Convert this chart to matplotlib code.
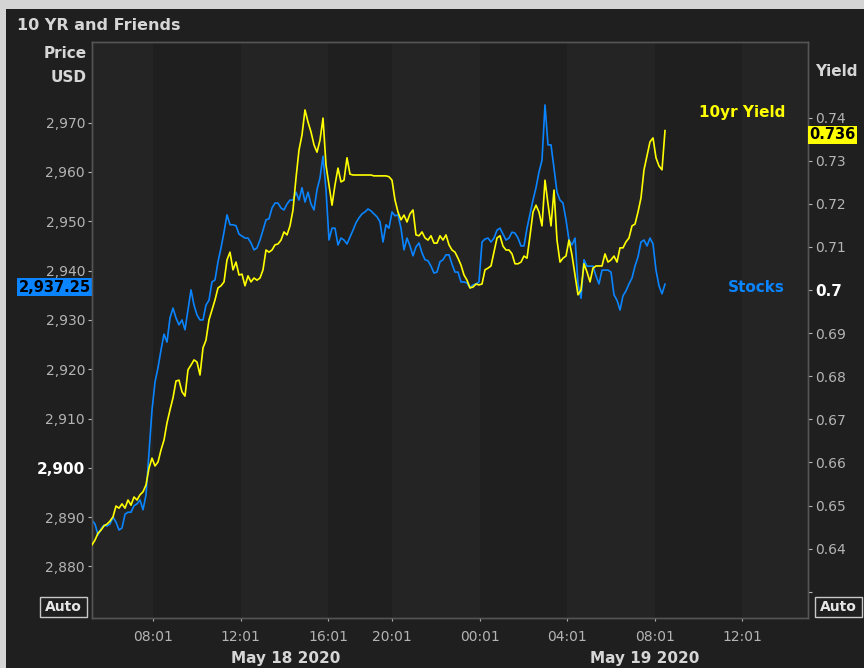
import numpy as np
import matplotlib
matplotlib.use("Agg")
import matplotlib.pyplot as plt
from matplotlib.transforms import blended_transform_factory
from matplotlib.patches import Rectangle

# ---------------- data ----------------
title = "10 YR and Friends"
stocks_label = "Stocks"
yield_label = "10yr Yield"
left_axis_title = ["Price", "USD"]
right_axis_title = "Yield"

# chart-time (hours relative to 08:01 May 18, trading-session clock)
t_start, t_end = -2.785, 23.38

stocks = [
    2889.4, 2888.6, 2886.4, 2887.6, 2888.4, 2888.2, 2888.6, 2890.0, 2889.0, 2887.4,
    2887.8, 2890.6, 2891.0, 2891.0, 2892.3, 2892.7, 2893.5, 2891.5, 2894.5, 2903.2,
    2911.7, 2917.4, 2920.3, 2923.9, 2927.1, 2925.5, 2930.4, 2932.4, 2930.4, 2929.0,
    2930.0, 2928.0, 2932.0, 2936.1, 2933.0, 2931.0, 2930.0, 2930.0, 2933.0, 2934.0,
    2937.7, 2938.1, 2941.8, 2944.6, 2947.8, 2951.3, 2949.3, 2949.3, 2949.1, 2947.4,
    2947.0, 2946.6, 2946.6, 2945.6, 2944.2, 2944.6, 2946.2, 2948.2, 2950.3, 2950.5,
    2952.7, 2953.7, 2953.7, 2952.7, 2952.3, 2953.5, 2954.3, 2954.3, 2955.9, 2954.3,
    2956.8, 2953.9, 2955.9, 2953.5, 2952.3, 2956.4, 2958.8, 2963.2, 2956.4, 2946.2,
    2948.6, 2948.6, 2945.2, 2946.6, 2946.2, 2945.4, 2946.8, 2948.2, 2949.7, 2950.7,
    2951.5, 2951.9, 2952.5, 2952.1, 2951.5, 2950.9, 2949.9, 2945.8, 2949.3, 2948.6,
    2951.9, 2951.1, 2951.3, 2948.6, 2944.2, 2946.6, 2945.0, 2943.0, 2944.8, 2945.6,
    2943.6, 2942.2, 2942.0, 2940.9, 2939.5, 2939.7, 2941.8, 2942.2, 2943.2, 2943.2,
    2941.3, 2939.7, 2939.7, 2937.7, 2937.7, 2937.5, 2936.5, 2937.1, 2937.3, 2937.7,
    2945.8, 2946.4, 2946.6, 2945.8, 2946.6, 2948.2, 2948.6, 2947.4, 2946.2, 2946.6,
    2947.8, 2947.6, 2946.6, 2945.0, 2945.0, 2948.6, 2951.5, 2954.3, 2956.8, 2960.0,
    2962.4, 2973.6, 2965.5, 2965.5, 2960.8, 2955.9, 2954.3, 2953.7, 2950.3, 2946.2,
    2945.2, 2946.6, 2937.3, 2934.4, 2942.2, 2940.9, 2940.9, 2940.9, 2938.9, 2937.3,
    2940.1, 2940.1, 2940.1, 2939.7, 2935.1, 2934.0, 2932.0, 2934.9, 2935.9, 2937.3,
    2938.5, 2940.9, 2942.8, 2945.8, 2946.2, 2945.0, 2946.6, 2945.4, 2940.1, 2936.9,
    2935.3, 2937.25,
]

yields = [
    0.6409, 0.6420, 0.6436, 0.6443, 0.6453, 0.6457, 0.6464, 0.6474, 0.6499, 0.6494,
    0.6504, 0.6494, 0.6513, 0.6501, 0.6520, 0.6513, 0.6525, 0.6532, 0.6548, 0.6587,
    0.6610, 0.6592, 0.6601, 0.6629, 0.6652, 0.6692, 0.6722, 0.6750, 0.6789, 0.6791,
    0.6764, 0.6754, 0.6815, 0.6826, 0.6838, 0.6833, 0.6803, 0.6866, 0.6884, 0.6931,
    0.6954, 0.6977, 0.7005, 0.7010, 0.7019, 0.7070, 0.7088, 0.7047, 0.7065, 0.7035,
    0.7037, 0.7010, 0.7033, 0.7019, 0.7028, 0.7023, 0.7028, 0.7047, 0.7093, 0.7088,
    0.7093, 0.7105, 0.7107, 0.7116, 0.7135, 0.7128, 0.7149, 0.7186, 0.7260, 0.7325,
    0.7360, 0.7418, 0.7390, 0.7367, 0.7337, 0.7320, 0.7348, 0.7399, 0.7290, 0.7244,
    0.7197, 0.7244, 0.7283, 0.7251, 0.7255, 0.7307, 0.7269, 0.7267, 0.7267, 0.7267,
    0.7267, 0.7267, 0.7267, 0.7267, 0.7265, 0.7265, 0.7265, 0.7265, 0.7265, 0.7263,
    0.7255, 0.7209, 0.7181, 0.7163, 0.7174, 0.7158, 0.7177, 0.7186, 0.7128, 0.7126,
    0.7135, 0.7121, 0.7116, 0.7126, 0.7109, 0.7109, 0.7126, 0.7116, 0.7128, 0.7105,
    0.7093, 0.7088, 0.7074, 0.7058, 0.7035, 0.7023, 0.7005, 0.7007, 0.7014, 0.7012,
    0.7014, 0.7047, 0.7051, 0.7056, 0.7088, 0.7121, 0.7126, 0.7102, 0.7093, 0.7093,
    0.7084, 0.7061, 0.7061, 0.7065, 0.7079, 0.7074, 0.7126, 0.7181, 0.7197, 0.7181,
    0.7149, 0.7255, 0.7200, 0.7149, 0.7232, 0.7116, 0.7065, 0.7074, 0.7079, 0.7116,
    0.7081, 0.7035, 0.6989, 0.7000, 0.7061, 0.7042, 0.7019, 0.7051, 0.7056, 0.7056,
    0.7056, 0.7084, 0.7065, 0.7070, 0.7079, 0.7065, 0.7098, 0.7098, 0.7112, 0.7121,
    0.7149, 0.7153, 0.7181, 0.7214, 0.7279, 0.7311, 0.7344, 0.7353, 0.7307, 0.7288,
    0.7279, 0.7370,
]

last_price = 2937.25
last_yield = 0.736

x_tick_pos = [0, 4, 8, 10.91, 14.91, 18.91, 22.91, 26.91]
x_tick_labels = ["08:01", "12:01", "16:01", "20:01", "00:01", "04:01", "08:01", "12:01"]
date_labels = ["May 18 2020", "May 19 2020"]
date_label_pos = [6.07, 22.47]

price_ticks = [2880, 2890, 2900, 2910, 2920, 2930, 2940, 2950, 2960, 2970]
yield_ticks = [0.63, 0.64, 0.65, 0.66, 0.67, 0.68, 0.69, 0.70, 0.71, 0.72, 0.73, 0.74]

# ---------------- style ----------------
W, H = 864, 668
BG_OUT = "#d4d4d4"
PANEL = "#1f1f1f"
BAND_A = "#242424"
BAND_B = "#1f1f1f"
BLUE = "#0a84ff"
YELLOW = "#ffff00"
TICK_C = "#b4b4b4"
TXT_C = "#d6d6d6"

plt.rcParams["font.family"] = ["DejaVu Sans"]

fig = plt.figure(figsize=(W / 100, H / 100), dpi=100, facecolor=BG_OUT)
fig.patches.append(Rectangle((6 / W, 0), 1 - 6 / W, 1 - 9 / H, transform=fig.transFigure,
                             facecolor=PANEL, edgecolor="none", zorder=-10))

ax = fig.add_axes([92 / W, 50 / H, 716 / W, 576 / H])
ax.set_facecolor(PANEL)
xlim = (-2.785, 29.91)
ax.set_xlim(*xlim)
ax.set_ylim(2869.55, 2986.36)

# alternating background bands between time ticks
edges = [xlim[0]] + x_tick_pos + [xlim[1]]
for i in range(len(edges) - 1):
    ax.axvspan(edges[i], edges[i + 1], color=BAND_A if i % 2 == 0 else BAND_B, lw=0, zorder=0)

t = np.linspace(t_start, t_end, len(stocks))
ax.plot(t, stocks, color=BLUE, lw=1.2, zorder=3)

ax2 = ax.twinx()
ax2.set_ylim(0.62392, 0.75756)
ty = np.linspace(t_start, t_end, len(yields))
ax2.plot(ty, yields, color=YELLOW, lw=1.2, zorder=3)

for a in (ax, ax2):
    for s in a.spines.values():
        s.set_color("#555555")
        s.set_linewidth(1.0)

# x axis
ax.set_xticks(x_tick_pos)
ax.set_xticklabels(x_tick_labels)
ax.tick_params(axis="x", colors=TICK_C, labelcolor=TICK_C, length=2.5, width=0.8, pad=6, labelsize=10)

# left axis
ax.set_yticks(price_ticks)
ax.set_yticklabels([f"{v:,}" for v in price_ticks])
ax.tick_params(axis="y", colors=TICK_C, labelcolor=TICK_C, length=3, width=0.8, pad=2, labelsize=10)
for lab, v in zip(ax.get_yticklabels(), price_ticks):
    if v % 100 == 0:
        lab.set_fontweight("bold")
        lab.set_color("#ffffff")
        lab.set_fontsize(11)

# right axis
def ylab(v):
    if abs(v - 0.63) < 1e-9:
        return ""
    return f"{v:.2f}".rstrip("0")
ax2.set_yticks(yield_ticks)
ax2.set_yticklabels([ylab(v) for v in yield_ticks])
ax2.tick_params(axis="y", colors=TICK_C, labelcolor=TICK_C, length=3, width=0.8, pad=2, labelsize=10)
for lab, v in zip(ax2.get_yticklabels(), yield_ticks):
    if abs(v - 0.70) < 1e-9:
        lab.set_fontweight("bold")
        lab.set_color("#ffffff")
        lab.set_fontsize(11)

# date labels
bt = blended_transform_factory(ax.transData, fig.transFigure)
for pos, lab in zip(date_label_pos, date_labels):
    fig.text(pos, 1 - 658 / H, lab, transform=bt, ha="center", va="center",
             fontsize=11, fontweight="bold", color=TXT_C)

# titles
fig.text(17 / W, 1 - 26 / H, title, ha="left", va="center", fontsize=11.5,
         fontweight="bold", color=TXT_C)
fig.text(87 / W, 1 - 53 / H, left_axis_title[0], ha="right", va="center", fontsize=11,
         fontweight="bold", color=TXT_C)
fig.text(87 / W, 1 - 78 / H, left_axis_title[1], ha="right", va="center", fontsize=11,
         fontweight="bold", color=TXT_C)
fig.text(815 / W, 1 - 72 / H, right_axis_title, ha="left", va="center", fontsize=11,
         fontweight="bold", color=TXT_C)

# series labels
ax.text(0.968, 1 - (112 - 42) / 576, yield_label, transform=ax.transAxes, ha="right",
        va="center", fontsize=11, fontweight="bold", color=YELLOW, zorder=5)
ax.text(0.968, 1 - (288 - 42) / 576, stocks_label, transform=ax.transAxes, ha="right",
        va="center", fontsize=11, fontweight="bold", color=BLUE, zorder=5)

# last value badges
tb = blended_transform_factory(ax.transAxes, ax.transData)
ax.text(-0.002, last_price - 0.6, f"{last_price:,.2f}", transform=tb, ha="right", va="center",
        fontsize=10.5, fontweight="bold", color="black", clip_on=False, zorder=6,
        bbox=dict(boxstyle="square,pad=0.1", fc=BLUE, ec="none"))
tb2 = blended_transform_factory(ax2.transAxes, ax2.transData)
ax2.text(1.002, last_yield, f"{last_yield:.3f}", transform=tb2, ha="left", va="center",
         fontsize=10.5, fontweight="bold", color="black", clip_on=False, zorder=6,
         bbox=dict(boxstyle="square,pad=0.1", fc=YELLOW, ec="none"))

# "Auto" boxes
for x0 in (40, 815):
    fig.patches.append(Rectangle((x0 / W, 1 - 617 / H), 47 / W, 20 / H, transform=fig.transFigure,
                                 facecolor="none", edgecolor="#c8c8c8", lw=1.0, zorder=5))
    fig.text((x0 + 23.5) / W, 1 - 607 / H, "Auto", ha="center", va="center", fontsize=10,
             fontweight="bold", color="#e6e6e6")

fig.savefig("out.png", dpi=100, facecolor=fig.get_facecolor())
